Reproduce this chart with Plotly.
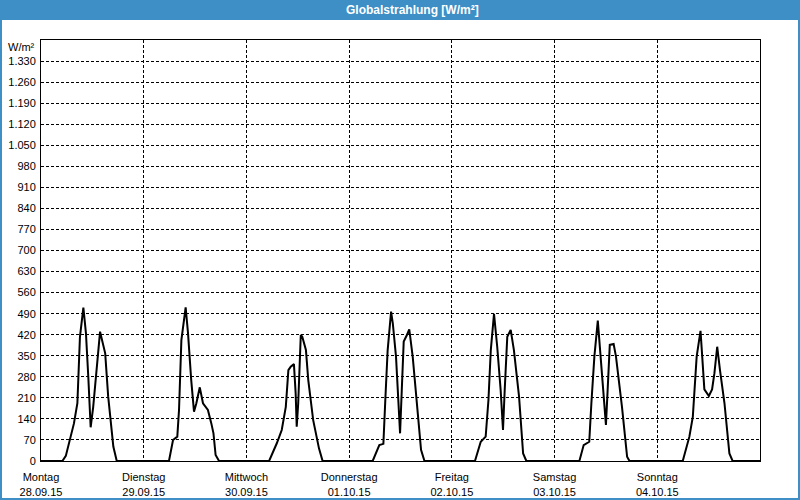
import plotly.graph_objects as go
import pandas as pd

# ---------------- data ----------------
start_date = "2015-09-28"
day_names = ["Montag", "Dienstag", "Mittwoch", "Donnerstag", "Freitag", "Samstag", "Sonntag"]
day_dates = ["28.09.15", "29.09.15", "30.09.15", "01.10.15", "02.10.15", "03.10.15", "04.10.15"]

# hour of day / irradiance (W/m²) for each day
mon_hours = [0, 5.0, 5.8, 7.7, 8.5, 9.1, 9.9, 10.5, 11.05, 11.6, 12.2, 13.0, 13.8, 15.0, 15.7, 16.9, 17.7]
mon_vals = [0, 0, 17, 125, 192, 413, 510, 425, 280, 112, 180, 302, 430, 358, 214, 48, 0]

tue_hours = [0, 5.9, 6.85, 7.85, 8.25, 8.8, 9.8, 10.35, 11.1, 11.75, 12.3, 13.1, 13.85, 15.0, 15.8, 16.3, 16.8, 17.6]
tue_vals = [0, 0, 70, 81, 170, 402, 511, 425, 269, 164, 192, 245, 192, 170, 125, 92, 20, 0]

wed_hours = [0, 5.3, 7.1, 8.25, 9.2, 9.8, 10.35, 11.1, 11.5, 11.75, 12.1, 12.7, 13.05, 13.9, 14.45, 15.6, 16.95, 17.8]
wed_vals = [0, 0, 59, 103, 180, 302, 314, 322, 225, 114, 192, 419, 413, 369, 269, 136, 42, 0]

thu_hours = [0, 5.5, 7.05, 8.0, 8.45, 9.0, 9.8, 10.2, 10.95, 11.5, 11.9, 12.3, 12.75, 13.5, 14.05, 14.85, 15.8, 16.8, 17.6]
thu_vals = [0, 0, 53, 57, 203, 369, 497, 458, 347, 214, 92, 236, 397, 419, 438, 347, 203, 37, 0]

fri_hours = [0, 5.4, 6.75, 7.9, 8.55, 9.1, 9.85, 10.6, 11.4, 11.95, 12.35, 12.95, 13.75, 14.5, 15.7, 16.65, 17.4]
fri_vals = [0, 0, 64, 81, 203, 369, 489, 380, 236, 103, 236, 413, 436, 369, 214, 25, 0]

sat_hours = [0, 5.8, 6.8, 8.1, 8.6, 9.3, 10.1, 10.7, 11.5, 12.0, 12.4, 12.9, 13.8, 14.35, 15.75, 16.95, 17.5]
sat_vals = [0, 0, 53, 64, 192, 347, 467, 347, 203, 120, 236, 386, 389, 347, 180, 14, 0]

sun_hours = [0, 5.95, 7.5, 8.3, 9.2, 10.1, 10.45, 11.0, 12.05, 12.8, 13.35, 14.0, 14.65, 15.7, 16.85, 17.6, 24]
sun_vals = [0, 0, 81, 147, 347, 433, 358, 238, 216, 238, 292, 380, 302, 192, 25, 0, 0]

y_ticks = list(range(0, 1331, 70))
y_unit = "W/m²"
title_text = "Globalstrahlung [W/m²]"

# ---------------- build series ----------------
base = pd.Timestamp(start_date)
all_days = [(mon_hours, mon_vals), (tue_hours, tue_vals), (wed_hours, wed_vals),
            (thu_hours, thu_vals), (fri_hours, fri_vals), (sat_hours, sat_vals),
            (sun_hours, sun_vals)]
xs, ys = [], []
for d, (hrs, vals) in enumerate(all_days):
    for h, v in zip(hrs, vals):
        xs.append((base + pd.Timedelta(hours=24 * d + h)).strftime("%Y-%m-%d %H:%M:%S"))
        ys.append(v)

day_ticks = [(base + pd.Timedelta(days=i)).strftime("%Y-%m-%d") for i in range(7)]
day_text = [f"{n}<br>{t}" for n, t in zip(day_names, day_dates)]
y_text = [f"{v:,}".replace(",", ".") for v in y_ticks]

# ---------------- layout helpers ----------------
W, H = 800, 500
L, R, T, B = 41, 40, 40, 39
pw, ph = W - L - R, H - T - B

def px(x):
    return (x - L) / pw

def py(y):
    return (H - B - y) / ph

BLUE = "#3d8fc6"
FONT = "Liberation Sans"

fig = go.Figure()
fig.add_trace(go.Scatter(x=xs, y=ys, mode="lines",
                         line=dict(color="black", width=2), hoverinfo="skip"))

fig.update_layout(
    width=W, height=H,
    margin=dict(l=L, r=R, t=T, b=B, pad=0),
    paper_bgcolor="white", plot_bgcolor="white",
    showlegend=False,
    font=dict(family=FONT, size=11, color="black"),
    xaxis=dict(
        type="date", automargin=False,
        range=[day_ticks[0], (base + pd.Timedelta(days=7)).strftime("%Y-%m-%d")],
        tickmode="array", tickvals=day_ticks, ticktext=day_text,
        showgrid=True, gridcolor="black", gridwidth=1, griddash="3px,2px",
        showline=True, linecolor="black", linewidth=1, mirror=True,
        ticks="", zeroline=False, tickfont=dict(family=FONT, size=11),
        ticklabelstandoff=6,
    ),
    yaxis=dict(
        range=[0, 1400], automargin=False,
        tickmode="array", tickvals=y_ticks, ticktext=y_text,
        showgrid=True, gridcolor="black", gridwidth=1, griddash="3px,2px",
        showline=True, linecolor="black", linewidth=1, mirror=True,
        ticks="", zeroline=False, tickfont=dict(family=FONT, size=11),
        ticklabelstandoff=2,
    ),
    shapes=[
        dict(type="rect", xref="paper", yref="paper",
             x0=px(0), x1=px(W), y0=py(20), y1=py(0),
             fillcolor=BLUE, line=dict(width=0), layer="above"),
        dict(type="rect", xref="paper", yref="paper",
             x0=px(1), x1=px(W - 1), y0=py(H - 1), y1=py(1),
             fillcolor="rgba(0,0,0,0)", line=dict(color=BLUE, width=2)),
    ],
    annotations=[
        dict(text=f"<b>{title_text}</b>", xref="paper", yref="paper", x=px(412), y=py(10),
             xanchor="center", yanchor="middle", showarrow=False,
             font=dict(family=FONT, size=12, color="white")),
        dict(text=y_unit, xref="paper", yref="paper", x=px(37), y=py(39),
             xanchor="right", yanchor="top", showarrow=False,
             font=dict(family=FONT, size=11, color="black")),
    ],
)

fig.write_html("out.html", config={"displayModeBar": False},
               post_script="document.body.style.margin='0';")
